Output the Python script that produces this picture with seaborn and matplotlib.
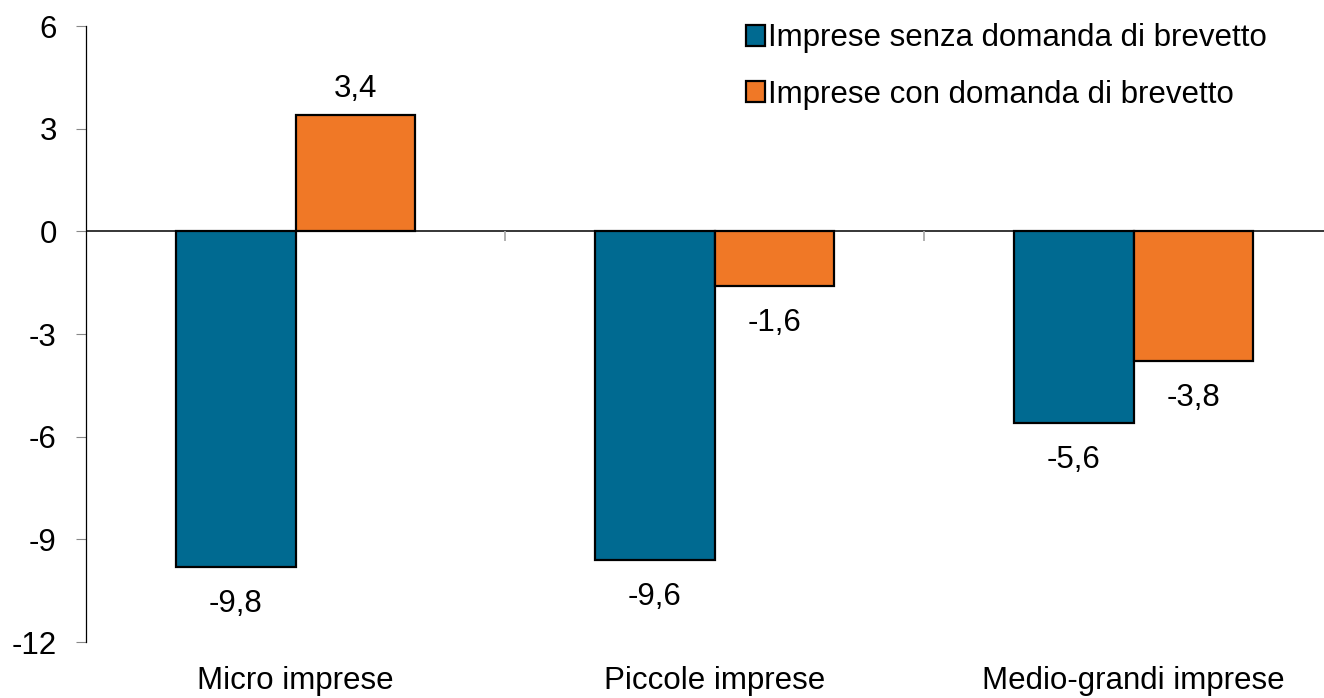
import numpy as np
import pandas as pd
import matplotlib
matplotlib.use("Agg")
import matplotlib.pyplot as plt
import seaborn as sns

# --- data ---
categories = ["Micro imprese", "Piccole imprese", "Medio-grandi imprese"]
series_names = ["Imprese senza domanda di brevetto", "Imprese con domanda di brevetto"]
senza_brevetto = [-9.8, -9.6, -5.6]
con_brevetto = [3.4, -1.6, -3.8]
y_ticks = [-12, -9, -6, -3, 0, 3, 6]

colors = ["#006A91", "#F07826"]

df = pd.DataFrame({
    "categoria": categories * 2,
    "serie": [series_names[0]] * 3 + [series_names[1]] * 3,
    "valore": senza_brevetto + con_brevetto,
})

sns.set_style("white")
plt.rcParams["font.family"] = ["Liberation Sans", "DejaVu Sans"]
plt.rcParams["text.color"] = "black"
plt.rcParams["xtick.color"] = "black"
plt.rcParams["ytick.color"] = "black"

FS = 22.5

fig = plt.figure(figsize=(13.24, 6.98), dpi=100)
ax = fig.add_axes([86 / 1324, 56 / 698, 1257 / 1324, 616 / 698])

sns.barplot(data=df, x="categoria", y="valore", hue="serie", palette=colors,
            order=categories, hue_order=series_names, width=0.572, saturation=1,
            edgecolor="black", linewidth=1.6, ax=ax, legend=True)

# etichette dei valori, virgola decimale
for cont in ax.containers:
    for r in cont:
        v = r.get_height()
        x = r.get_x() + r.get_width() / 2
        lab = f"{v:.1f}".replace(".", ",")
        if v >= 0:
            ax.annotate(lab, (x, v), xytext=(0, 11), textcoords="offset pixels",
                        ha="center", va="bottom", fontsize=FS)
        else:
            ax.annotate(lab, (x, v), xytext=(0, -22), textcoords="offset pixels",
                        ha="center", va="top", fontsize=FS)

ax.set_ylim(-12, 6)
ax.set_xlim(-0.5, 2.5)
ax.set_yticks(y_ticks)
ax.set_yticklabels([str(t) for t in y_ticks], fontsize=FS)
ax.set_xlabel("")
ax.set_ylabel("")
ax.tick_params(axis="y", length=7, width=0.8, color="#888888", pad=14, left=True,
               labelcolor="black")
ax.tick_params(axis="x", length=0, labelsize=FS, pad=17, labelcolor="black")

for s in ["top", "right", "bottom"]:
    ax.spines[s].set_visible(False)
ax.spines["left"].set_color("black")
ax.spines["left"].set_linewidth(0.9)

# linea dello zero e separatori tra categorie
ax.axhline(0, color="black", linewidth=1.1, zorder=1)
ax.vlines([0.5, 1.5], -0.27, 0, color="#aaaaaa", linewidth=1.3)

leg = ax.legend(loc="upper left", bbox_to_anchor=(0.503, 1.05), frameon=False,
                fontsize=FS, handlelength=0.6, handleheight=0.65,
                handletextpad=0.1, labelspacing=0.85)
for h in leg.legend_handles:
    h.set_edgecolor("black")
    h.set_linewidth(1.6)
for t in leg.get_texts():
    t.set_color("black")

fig.savefig("out.png", dpi=100)
